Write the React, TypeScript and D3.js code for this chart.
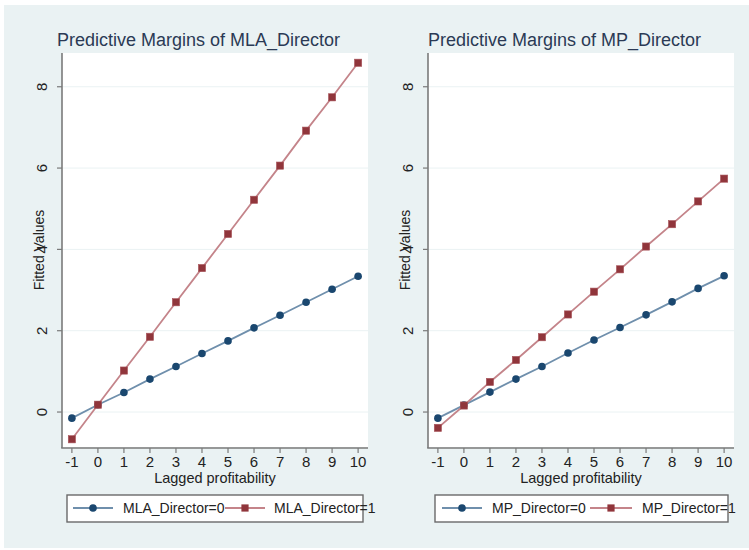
import React from "react";
import * as d3 from "d3";

const xVals = [-1, 0, 1, 2, 3, 4, 5, 6, 7, 8, 9, 10];
const mlaDir0 = [-0.15, 0.18, 0.48, 0.81, 1.12, 1.44, 1.75, 2.07, 2.38, 2.7, 3.02, 3.34];
const mlaDir1 = [-0.67, 0.18, 1.02, 1.85, 2.7, 3.54, 4.38, 5.22, 6.06, 6.92, 7.74, 8.59];
const mpDir0 = [-0.15, 0.17, 0.49, 0.81, 1.12, 1.45, 1.77, 2.08, 2.39, 2.71, 3.04, 3.35];
const mpDir1 = [-0.39, 0.16, 0.74, 1.28, 1.84, 2.4, 2.96, 3.51, 4.07, 4.62, 5.18, 5.74];
const yTicks = [0, 2, 4, 6, 8];
const titles = ["Predictive Margins of MLA_Director", "Predictive Margins of MP_Director"];
const legendLabels = [
  ["MLA_Director=0", "MLA_Director=1"],
  ["MP_Director=0", "MP_Director=1"],
];

const W = 749;
const H = 550;
const FONT = "'Liberation Sans', Arial, Helvetica, sans-serif";
const BLUE = "#1a476f";
const BLUE_LINE = "#6f8fac";
const RED = "#90353b";
const RED_LINE = "#c4848a";

const panels = [
  {
    left: 62, right: 368, titleX: 57,
    legend: { x0: 67, x1: 363, l1: [73, 113], t1: 123, l2: [225, 265], t2: 274 },
    s0: mlaDir0, s1: mlaDir1,
  },
  {
    left: 428, right: 734, titleX: 428,
    legend: { x0: 435, x1: 728, l1: [442, 482], t1: 492, l2: [590, 632], t2: 642 },
    s0: mpDir0, s1: mpDir1,
  },
];

const top = 53;
const bottom = 447;

function Panel({ p, idx }: { p: any; idx: number }) {
  const x = d3.scaleLinear().domain([-1.38, 10.38]).range([p.left, p.right]);
  const y = d3.scaleLinear().domain([-0.86, 8.83]).range([bottom, top]);
  const line = d3
    .line<number>()
    .x((_, i) => x(xVals[i]))
    .y((d) => y(d));
  const ly = 508;
  const lg = p.legend;
  return (
    <g>
      <rect x={p.left} y={top} width={p.right - p.left} height={bottom - top} fill="#ffffff" />
      {yTicks.map((t) => (
        <line key={"g" + t} x1={p.left} x2={p.right} y1={y(t)} y2={y(t)} stroke="#eaf2f3" strokeWidth={1} />
      ))}
      <text x={p.titleX} y={46} fontFamily={FONT} fontSize={18} fill="#2b3a55">
        {titles[idx]}
      </text>
      {/* y axis */}
      <line x1={p.left} x2={p.left} y1={top} y2={bottom + 1} stroke="#7a7a7a" strokeWidth={1.6} />
      {yTicks.map((t) => (
        <g key={"y" + t}>
          <line x1={p.left - 5} x2={p.left} y1={y(t)} y2={y(t)} stroke="#7a7a7a" strokeWidth={1.2} />
          <text
            transform={`translate(${p.left - 15},${y(t)}) rotate(-90)`}
            textAnchor="middle"
            fontFamily={FONT}
            fontSize={15}
            fill="#222"
          >
            {t}
          </text>
        </g>
      ))}
      <text
        transform={`translate(${p.left - 18},${(top + bottom) / 2}) rotate(-90)`}
        textAnchor="middle"
        fontFamily={FONT}
        fontSize={14}
        fill="#222"
      >
        Fitted Values
      </text>
      {/* x axis */}
      <line x1={p.left - 0.8} x2={p.right} y1={bottom + 1} y2={bottom + 1} stroke="#7a7a7a" strokeWidth={1.6} />
      {xVals.map((v) => (
        <g key={"x" + v}>
          <line x1={x(v)} x2={x(v)} y1={bottom + 1} y2={bottom + 6} stroke="#7a7a7a" strokeWidth={1.2} />
          <text x={x(v)} y={467} textAnchor="middle" fontFamily={FONT} fontSize={15} fill="#222">
            {v}
          </text>
        </g>
      ))}
      <text x={(p.left + p.right) / 2} y={483} textAnchor="middle" fontFamily={FONT} fontSize={14.5} fill="#222">
        Lagged profitability
      </text>
      {/* series */}
      <path d={line(p.s0) || ""} fill="none" stroke={BLUE_LINE} strokeWidth={1.8} />
      <path d={line(p.s1) || ""} fill="none" stroke={RED_LINE} strokeWidth={1.8} />
      {p.s0.map((v: number, i: number) => (
        <circle key={"c" + i} cx={x(xVals[i])} cy={y(v)} r={3.8} fill={BLUE} />
      ))}
      {p.s1.map((v: number, i: number) => (
        <rect key={"s" + i} x={x(xVals[i]) - 3.6} y={y(v) - 3.6} width={7.2} height={7.2} fill={RED} stroke="#a9565c" strokeWidth={0.6} />
      ))}
      {/* legend */}
      <rect x={lg.x0} y={495} width={lg.x1 - lg.x0} height={27} fill="#ffffff" stroke="#6a6a6a" strokeWidth={1.4} />
      <line x1={lg.l1[0]} x2={lg.l1[1]} y1={ly} y2={ly} stroke={BLUE_LINE} strokeWidth={1.8} />
      <circle cx={(lg.l1[0] + lg.l1[1]) / 2} cy={ly} r={3.8} fill={BLUE} />
      <text x={lg.t1} y={ly + 5} fontFamily={FONT} fontSize={14} fill="#222">
        {legendLabels[idx][0]}
      </text>
      <line x1={lg.l2[0]} x2={lg.l2[1]} y1={ly} y2={ly} stroke={RED_LINE} strokeWidth={1.8} />
      <rect x={(lg.l2[0] + lg.l2[1]) / 2 - 3.6} y={ly - 3.6} width={7.2} height={7.2} fill={RED} />
      <text x={lg.t2} y={ly + 5} fontFamily={FONT} fontSize={14} fill="#222">
        {legendLabels[idx][1]}
      </text>
    </g>
  );
}

export default function App() {
  return (
    <svg
      width={W}
      height={H}
      style={{ position: "absolute", left: 0, top: 0, display: "block" }}
      xmlns="http://www.w3.org/2000/svg"
    >
      <rect x={0} y={0} width={W} height={H} fill="#ffffff" />
      <rect x={4} y={5} width={W - 4} height={543} fill="#eaf2f3" />
      {panels.map((p, i) => (
        <Panel key={i} p={p} idx={i} />
      ))}
    </svg>
  );
}
